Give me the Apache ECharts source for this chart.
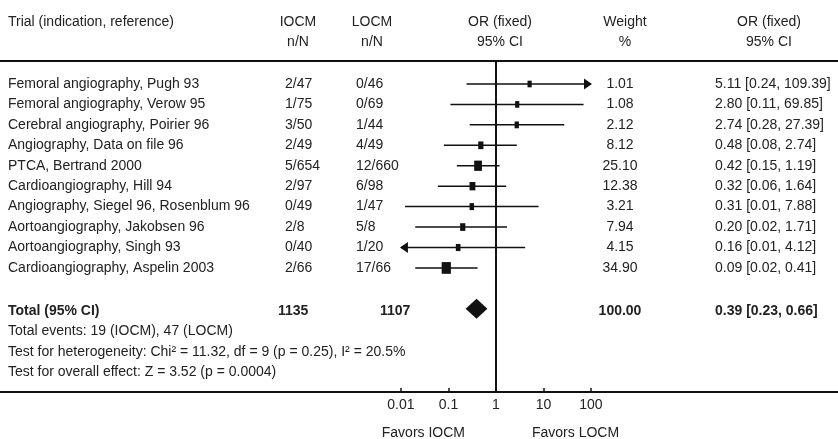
<!DOCTYPE html>
<html><head><meta charset="utf-8">
<script src="https://cdn.jsdelivr.net/npm/echarts@6/dist/echarts.min.js"></script>
<style>html,body{margin:0;padding:0;background:#fff}#c{width:838px;height:439px}</style>
</head><body><div id="c"></div>
<script>
// ---- data ----
const headerLine1 = ['Trial (indication, reference)', 'IOCM', 'LOCM', 'OR (fixed)', 'Weight', 'OR (fixed)'];
const headerLine2 = ['', 'n/N', 'n/N', '95% CI', '%', '95% CI'];
const trials = [
  'Femoral angiography, Pugh 93',
  'Femoral angiography, Verow 95',
  'Cerebral angiography, Poirier 96',
  'Angiography, Data on file 96',
  'PTCA, Bertrand 2000',
  'Cardioangiography, Hill 94',
  'Angiography, Siegel 96, Rosenblum 96',
  'Aortoangiography, Jakobsen 96',
  'Aortoangiography, Singh 93',
  'Cardioangiography, Aspelin 2003'
];
const iocm = ['2/47', '1/75', '3/50', '2/49', '5/654', '2/97', '0/49', '2/8', '0/40', '2/66'];
const locm = ['0/46', '0/69', '1/44', '4/49', '12/660', '6/98', '1/47', '5/8', '1/20', '17/66'];
const orVal = [5.11, 2.80, 2.74, 0.48, 0.42, 0.32, 0.31, 0.20, 0.16, 0.09];
const ciLow = [0.24, 0.11, 0.28, 0.08, 0.15, 0.06, 0.0122, 0.02, 0.0062, 0.02];
const ciHigh = [109.39, 69.85, 27.39, 2.74, 1.19, 1.64, 7.88, 1.71, 4.12, 0.41];
const weights = [1.01, 1.08, 2.12, 8.12, 25.10, 12.38, 3.21, 7.94, 4.15, 34.90];
const totalLabel = 'Total (95% CI)';
const totalIOCM = 1135, totalLOCM = 1107;
const totalOR = 0.39, totalLow = 0.23, totalHigh = 0.66, totalWeight = 100.00;
const footnotes = [
  'Total events: 19 (IOCM), 47 (LOCM)',
  'Test for heterogeneity: Chi\u00b2 = 11.32, df = 9 (p = 0.25), I\u00b2 = 20.5%',
  'Test for overall effect: Z = 3.52 (p = 0.0004)'
];
const tickValues = [0.01, 0.1, 1, 10, 100];
const favorsLabels = ['Favors IOCM', 'Favors LOCM'];

// ---- layout / style ----
const FONT = 'Arial, "Liberation Sans", Helvetica, sans-serif';
const TXT = '#222';
const INK = '#111';
const L = {
  xMin: -10.44, xMax: 7.2, plotLo: -2, plotHi: 2,
  yMin: -1.125, yMax: 15.07,
  headRows: [-3.05, -2.05], totalRow: 11.1, footRows: [12.1, 13.1, 14.1], favorsRow: 17.07,
  headCols: [[8, 'left'], [298, 'center'], [372, 'center'], [500, 'center'], [625, 'center'], [769, 'center']],
  trial: 8, iocm: 285, locm: 356, weight: 620, or: 715, totIocm: 278, totLocm: 380,
  favL: 465, favR: 532
};

const fmtCI = (o, l, h) => o.toFixed(2) + ' [' + l.toFixed(2) + ', ' + h.toFixed(2) + ']';

const cells = [];
const cell = (row, x, text, align, bold) => cells.push({row, x, text, align, bold: !!bold});
headerLine1.forEach((t, i) => cell(L.headRows[0], L.headCols[i][0], t, L.headCols[i][1]));
headerLine2.forEach((t, i) => { if (t) cell(L.headRows[1], L.headCols[i][0], t, L.headCols[i][1]); });
trials.forEach((t, i) => {
  cell(i, L.trial, t, 'left');
  cell(i, L.iocm, iocm[i], 'left');
  cell(i, L.locm, locm[i], 'left');
  cell(i, L.weight, weights[i].toFixed(2), 'center');
  cell(i, L.or, fmtCI(orVal[i], ciLow[i], ciHigh[i]), 'left');
});
cell(L.totalRow, L.trial, totalLabel, 'left', true);
cell(L.totalRow, L.totIocm, String(totalIOCM), 'left', true);
cell(L.totalRow, L.totLocm, String(totalLOCM), 'left', true);
cell(L.totalRow, L.weight, totalWeight.toFixed(2), 'center', true);
cell(L.totalRow, L.or, fmtCI(totalOR, totalLow, totalHigh), 'left', true);
footnotes.forEach((t, i) => cell(L.footRows[i], L.trial, t, 'left'));
cell(L.favorsRow, L.favL, favorsLabels[0], 'right');
cell(L.favorsRow, L.favR, favorsLabels[1], 'left');

const lg = Math.log10;
const studyData = orVal.map((o, i) => [lg(o), i, lg(ciLow[i]), lg(ciHigh[i]), weights[i]]);
const totalData = [[lg(totalOR), L.totalRow, lg(totalLow), lg(totalHigh)]];
const tickLogs = tickValues.map(lg);

const chart = echarts.init(document.getElementById('c'));
chart.setOption({
  animation: false,
  backgroundColor: '#fff',
  grid: {left: 0, right: 0, top: 61, bottom: 47, containLabel: false},
  xAxis: [{
    type: 'value', min: L.xMin, max: L.xMax, position: 'bottom',
    axisLine: {show: true, onZero: false, lineStyle: {color: INK, width: 2}},
    axisTick: {show: true, inside: true, length: 4, customValues: tickLogs, lineStyle: {color: INK, width: 1.5}},
    axisLabel: {show: true, customValues: tickLogs, margin: 6, fontSize: 14, fontFamily: FONT, color: TXT,
      formatter: v => { const k = tickLogs.findIndex(t => Math.abs(t - v) < 1e-6); return k < 0 ? '' : String(tickValues[k]); }},
    splitLine: {show: false}
  }, {
    type: 'value', min: L.xMin, max: L.xMax, position: 'top',
    axisLine: {show: true, onZero: false, lineStyle: {color: INK, width: 2}},
    axisTick: {show: false}, axisLabel: {show: false}, splitLine: {show: false}
  }],
  yAxis: {type: 'value', min: L.yMin, max: L.yMax, inverse: true, show: false, axisLine: {onZero: false}},
  series: [{
    type: 'custom', name: 'table', clip: false, silent: true,
    data: cells.map(c => [0, c.row]),
    renderItem: (params, api) => {
      const c = cells[params.dataIndex];
      const y = api.coord([0, api.value(1)])[1];
      return {type: 'text', x: c.x, y: y, style: {
        text: c.text, fill: TXT, align: c.align, verticalAlign: 'middle',
        font: (c.bold ? 'bold ' : '') + '14px ' + FONT
      }};
    }
  }, {
    type: 'custom', name: 'studies', clip: false, silent: true,
    data: studyData,
    renderItem: (params, api) => {
      const y = api.coord([0, api.value(1)])[1];
      const xo = api.coord([api.value(0), 0])[0];
      const lo = api.value(2), hi = api.value(3), w = api.value(4);
      const xl = api.coord([Math.max(lo, L.plotLo), 0])[0];
      const xh = api.coord([Math.min(hi, L.plotHi), 0])[0];
      const ch = [{type: 'line', shape: {x1: xl, y1: y, x2: xh, y2: y}, style: {stroke: INK, lineWidth: 1.5}}];
      if (lo < L.plotLo) ch.push({type: 'polygon', shape: {points: [[xl - 1, y], [xl + 7, y - 5.5], [xl + 7, y + 5.5]]}, style: {fill: INK}});
      if (hi > L.plotHi) ch.push({type: 'polygon', shape: {points: [[xh + 1, y], [xh - 7, y - 5.5], [xh - 7, y + 5.5]]}, style: {fill: INK}});
      const sw = 4 + 0.15 * w, sh = sw + 2.5;
      ch.push({type: 'rect', shape: {x: xo - sw / 2, y: y - sh / 2, width: sw, height: sh}, style: {fill: INK}});
      return {type: 'group', children: ch};
    },
    markLine: {
      silent: true, symbol: ['none', 'none'], label: {show: false},
      lineStyle: {color: INK, width: 2, type: 'solid'},
      data: [{xAxis: 0}]
    }
  }, {
    type: 'custom', name: 'total', clip: false, silent: true,
    data: totalData,
    renderItem: (params, api) => {
      const y = api.coord([0, api.value(1)])[1] - 2;
      const xo = api.coord([api.value(0), 0])[0];
      const xl = api.coord([api.value(2), 0])[0];
      const xh = api.coord([api.value(3), 0])[0];
      return {type: 'polygon', shape: {points: [[xl, y], [xo, y - 10], [xh, y], [xo, y + 10]]}, style: {fill: INK}};
    }
  }]
});
</script>
</body></html>
